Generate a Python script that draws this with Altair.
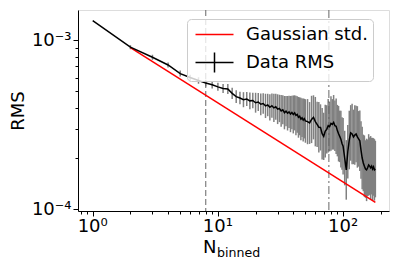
import altair as alt
import pandas as pd

# ---- data ----
N_vals = list(range(1, 51)) + list(range(52, 101, 2)) + list(range(103, 182, 3))

rms_e4 = [
    13.06, 9.10, 7.93, 7.14, 6.35, 6.02, 5.78, 5.58, 5.45, 5.30, 5.19, 5.15,
    4.85, 4.64, 4.55, 4.45, 4.49, 4.38, 4.40, 4.27, 4.31, 4.18, 4.22, 4.09,
    4.14, 4.01, 4.10, 3.98, 4.04, 3.91, 3.95, 3.82, 3.88, 3.73, 3.81, 3.70,
    3.77, 3.66, 3.74, 3.64, 3.72, 3.59, 3.64, 3.50, 3.55, 3.42, 3.48, 3.37,
    3.44, 3.33,
    3.30, 3.24, 3.40, 3.50, 3.30, 3.18, 3.06, 3.05, 2.80, 2.70, 2.90, 2.97,
    3.12, 3.08, 3.22, 3.18, 3.27, 3.12, 3.10, 2.92, 2.80, 2.70, 2.60, 2.45, 2.36,
    2.01, 1.71, 2.19, 2.57, 2.83, 2.79, 2.68, 2.75, 2.79, 2.68, 2.61, 2.54,
    2.24, 2.01, 1.88, 1.80, 1.73, 1.71, 1.76, 1.83, 1.80, 1.76, 1.80, 1.73,
    1.78, 1.71, 1.73,
]

err_rel = [
    0.0, 0.028, 0.035, 0.035, 0.042, 0.040, 0.045, 0.046, 0.050, 0.056, 0.063, 0.070,
    0.078, 0.090, 0.088, 0.108, 0.100, 0.122, 0.112, 0.145, 0.130, 0.160, 0.150, 0.180,
    0.165, 0.195, 0.180, 0.212, 0.195, 0.225, 0.205, 0.240, 0.220, 0.255, 0.230, 0.265,
    0.245, 0.280, 0.255, 0.295, 0.270, 0.310, 0.282, 0.320, 0.295, 0.335, 0.300, 0.340,
    0.310, 0.345,
    0.36, 0.33, 0.38, 0.35, 0.40, 0.36, 0.41, 0.37, 0.42, 0.38, 0.43, 0.39,
    0.44, 0.40, 0.45, 0.41, 0.45, 0.41, 0.46, 0.42, 0.46, 0.42, 0.47, 0.43, 0.47,
    0.45, 0.50, 0.44, 0.49, 0.46, 0.51, 0.45, 0.50, 0.47, 0.52, 0.46, 0.51,
    0.48, 0.53, 0.47, 0.52, 0.48, 0.53, 0.47, 0.52, 0.48, 0.54, 0.47, 0.53,
    0.48, 0.52, 0.47,
]

gauss_N = [2, 181]
gauss_e4 = [9.05, 1.10]

vline_dashed = [8]
vline_dashdot = [77]

series_names = ["Gaussian std.", "Data RMS"]
series_colors = ["#ff0000", "#000000"]
series_symbols = ["M-2,0H2", "M-2,0H2M0,-1.05V1.05"]

x_ticks = [0.8, 0.9, 1, 2, 3, 4, 5, 6, 7, 8, 9, 10, 20, 30, 40, 50, 60, 70, 80, 90, 100, 200]
x_label_vals = [1, 10, 100]
x_label_text = ["10⁰", "10¹", "10²"]
y_ticks = [1e-4, 2e-4, 3e-4, 4e-4, 5e-4, 6e-4, 7e-4, 8e-4, 9e-4, 1e-3]
x_domain = [0.763, 232.6]
y_domain = [0.977e-4, 15.1e-4]

# ---- tables ----
df = pd.DataFrame({"N": N_vals, "rms": [v * 1e-4 for v in rms_e4], "rel": err_rel})
df["lo"] = df["rms"] / (1 + df["rel"])
df["hi"] = df["rms"] * (1 + df["rel"])
df["series"] = "Data RMS"
gdf = pd.DataFrame({"N": gauss_N, "rms": [v * 1e-4 for v in gauss_e4]})
gdf["series"] = "Gaussian std."
xlab = pd.DataFrame({"N": x_label_vals, "t": x_label_text})

FONT = "DejaVu Sans"
major_test = "abs(log(datum.value)/LN10 - round(log(datum.value)/LN10)) < 0.01"

x_axis = alt.Axis(
    values=x_ticks, labels=False,
    tickSize={"condition": {"test": major_test, "value": 5}, "value": 3},
    tickColor="black", domainColor="black", grid=False, title=None,
)
y_axis = alt.Axis(
    values=y_ticks,
    labelExpr="abs(log(datum.value)/LN10 + 3) < 0.01 ? '10⁻³' : (abs(log(datum.value)/LN10 + 4) < 0.01 ? '10⁻⁴' : '')",
    tickSize={"condition": {"test": major_test, "value": 5}, "value": 3},
    labelFontSize=18, labelFont=FONT, labelColor="black", labelPadding=2,
    labelFlush=False, labelOverlap=False,
    tickColor="black", domainColor="black", grid=False,
    title="RMS", titleFontSize=18, titleFont=FONT, titleFontWeight="normal",
    titleColor="black", titlePadding=4,
)

xs = alt.Scale(type="log", domain=x_domain, nice=False)
ys = alt.Scale(type="log", domain=y_domain, nice=False)

legend = alt.Legend(
    title=None, orient="none", legendX=109, legendY=9,
    symbolSize=361, symbolStrokeWidth=1.5, symbolOffset=12, symbolOpacity=1,
    symbolFillColor="transparent",
    labelFontSize=18, labelFont=FONT, labelColor="black", labelOffset=21, labelLimit=400,
    rowPadding=5, padding=5,
    fillColor="rgba(255,255,255,0.8)", strokeColor="#cccccc", cornerRadius=4,
)
color = alt.Color("series:N", scale=alt.Scale(domain=series_names, range=series_colors), legend=legend)
shape = alt.Shape("series:N", scale=alt.Scale(domain=series_names, range=series_symbols), legend=legend)

X = alt.X("N:Q", scale=xs, axis=x_axis)

err = alt.Chart(df).mark_rule(color="#808080", strokeWidth=1.5).encode(
    x=X, y=alt.Y("lo:Q", scale=ys, axis=y_axis), y2="hi:Q"
)
vdash = alt.Chart(pd.DataFrame({"N": vline_dashed})).mark_rule(
    color="#666666", strokeWidth=1, strokeDash=[6, 3]
).encode(x=X)
vdashdot = alt.Chart(pd.DataFrame({"N": vline_dashdot})).mark_rule(
    color="#666666", strokeWidth=1, strokeDash=[8, 3, 2, 3]
).encode(x=X)
red = alt.Chart(gdf).mark_line(strokeWidth=1.5).encode(
    x=X, y=alt.Y("rms:Q", scale=ys, axis=y_axis), color=color
)
black = alt.Chart(df).mark_line(strokeWidth=1.5).encode(
    x=X, y=alt.Y("rms:Q", scale=ys, axis=y_axis), color=color
)
# invisible points that carry the legend symbol shapes
keys = alt.Chart(df).mark_point(opacity=0, filled=False, size=361).encode(
    x=X, y=alt.Y("rms:Q", scale=ys, axis=y_axis), color=color, shape=shape
)

# x tick labels (positioned by the x scale)
xticklabels = alt.Chart(xlab).mark_text(
    fontSize=18, font=FONT, color="black", align="center", baseline="alphabetic"
).encode(x=X, y=alt.value(222), text="t:N")

# x-axis title N_binned (subscript)
t_n = alt.Chart(pd.DataFrame({"t": ["N"]})).mark_text(
    fontSize=18, font=FONT, color="black", align="left", baseline="alphabetic"
).encode(x=alt.value(125), y=alt.value(243), text="t:N")
t_sub = alt.Chart(pd.DataFrame({"t": ["binned"]})).mark_text(
    fontSize=12.6, font=FONT, color="black", align="left", baseline="alphabetic"
).encode(x=alt.value(139), y=alt.value(246.5), text="t:N")

chart = alt.layer(err, vdash, vdashdot, red, black, keys, xticklabels, t_n, t_sub).properties(
    width=311, height=201,
    padding={"left": 70, "top": 2, "right": 2, "bottom": 52},
    autosize=alt.AutoSizeParams(type="none"),
).configure_view(stroke="black", strokeWidth=1).configure(background="white")

chart.save("out.html", embed_options={"renderer": "svg", "actions": False})
